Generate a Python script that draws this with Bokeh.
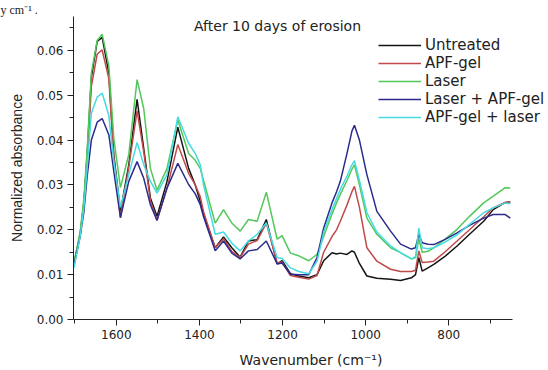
from bokeh.plotting import figure
from bokeh.models import Range1d, FixedTicker, PrintfTickFormatter, Legend, LegendItem, Label, Title
from bokeh.embed import file_html
from bokeh.resources import INLINE

wavenumber = [1702, 1687, 1678, 1670, 1660, 1646, 1634, 1618, 1606, 1590,
              1570, 1550, 1534, 1518, 1502, 1478, 1452, 1426, 1410, 1398,
              1390, 1362, 1342, 1322, 1302, 1282, 1261, 1239, 1213, 1201,
              1181, 1161, 1137, 1117, 1101, 1081, 1070, 1061, 1045, 1033,
              1027, 1015, 997, 973, 940, 916, 890, 880, 872, 864,
              850, 836, 810, 780, 750, 716, 693, 664, 652]

untreated = [0.0125, 0.019, 0.026, 0.037, 0.054, 0.062, 0.0629, 0.055, 0.0367, 0.0241,
             0.0345, 0.0491, 0.0381, 0.0271, 0.0230, 0.0308, 0.0429, 0.0337, 0.0300, 0.0263,
             0.0234, 0.0160, 0.0184, 0.0160, 0.0139, 0.0175, 0.0178, 0.0223, 0.0124, 0.0131,
             0.0102, 0.0097, 0.0093, 0.0100, 0.0131, 0.0149, 0.0146, 0.0148, 0.0145, 0.0153,
             0.0150, 0.0125, 0.0097, 0.0092, 0.0090, 0.0087, 0.0093, 0.0100, 0.0138, 0.0108,
             0.0115, 0.0123, 0.0140, 0.0164, 0.0190, 0.0219, 0.0245, 0.0261, 0.0262]

apf_gel = [0.012, 0.019, 0.026, 0.036, 0.052, 0.0592, 0.0601, 0.0537, 0.036, 0.0227,
           0.034, 0.0465, 0.0374, 0.0265, 0.0221, 0.0293, 0.0390, 0.0326, 0.0300, 0.0274,
           0.0240, 0.0160, 0.0180, 0.0152, 0.0138, 0.0168, 0.0176, 0.0215, 0.0126, 0.0128,
           0.0098, 0.0094, 0.0090, 0.0098, 0.0150, 0.0185, 0.0200, 0.0219, 0.0255, 0.0285,
           0.0297, 0.0250, 0.0160, 0.0130, 0.0112, 0.0107, 0.0107, 0.0110, 0.0153, 0.0127,
           0.0128, 0.0130, 0.0150, 0.0175, 0.0200, 0.0229, 0.0249, 0.0261, 0.0262]

laser = [0.0125, 0.0195, 0.027, 0.038, 0.055, 0.0622, 0.0636, 0.0566, 0.0404, 0.0294,
         0.0368, 0.0535, 0.0470, 0.0337, 0.0288, 0.0337, 0.0445, 0.0370, 0.0355, 0.0337,
         0.0310, 0.0215, 0.0245, 0.0215, 0.0197, 0.0223, 0.0219, 0.0284, 0.0179, 0.0187,
         0.0148, 0.0142, 0.0131, 0.0145, 0.0185, 0.0235, 0.0260, 0.0279, 0.0310, 0.0335,
         0.0345, 0.0300, 0.0226, 0.0190, 0.0160, 0.0149, 0.0135, 0.0138, 0.0180, 0.0150,
         0.0152, 0.0160, 0.0178, 0.0201, 0.0230, 0.0260, 0.0275, 0.0294, 0.0293]

laser_apf = [0.012, 0.0185, 0.024, 0.032, 0.040, 0.0440, 0.0448, 0.0412, 0.0330, 0.0227,
             0.0308, 0.0352, 0.0315, 0.0256, 0.0221, 0.0293, 0.0348, 0.0301, 0.0280, 0.0256,
             0.0229, 0.0153, 0.0175, 0.0148, 0.0135, 0.0153, 0.0156, 0.0175, 0.0124, 0.0126,
             0.0101, 0.0100, 0.0100, 0.0138, 0.0204, 0.0260, 0.0285, 0.0308, 0.0370, 0.0420,
             0.0433, 0.0400, 0.0323, 0.0241, 0.0197, 0.0168, 0.0157, 0.0160, 0.0190, 0.0171,
             0.0168, 0.0167, 0.0178, 0.0193, 0.0210, 0.0226, 0.0234, 0.0234, 0.0226]

apf_laser = [0.0115, 0.0185, 0.025, 0.034, 0.046, 0.0496, 0.0505, 0.0455, 0.0352, 0.0250,
             0.0323, 0.0395, 0.0345, 0.0308, 0.0282, 0.0323, 0.0452, 0.0393, 0.0370, 0.0345,
             0.0300, 0.0190, 0.0195, 0.0170, 0.0153, 0.0175, 0.0190, 0.0215, 0.0138, 0.0136,
             0.0115, 0.0107, 0.0102, 0.0130, 0.0195, 0.0245, 0.0270, 0.0290, 0.0320, 0.0345,
             0.0354, 0.0310, 0.0238, 0.0195, 0.0164, 0.0149, 0.0135, 0.0140, 0.0204, 0.0160,
             0.0158, 0.0160, 0.0172, 0.0189, 0.0212, 0.0238, 0.0249, 0.0260, 0.0258]

series_names = ["Untreated", "APF-gel", "Laser", "Laser + APF-gel", "APF-gel + laser"]
series_values = [untreated, apf_gel, laser, laser_apf, apf_laser]
series_colors = ["#141414", "#c04a4a", "#52c85a", "#2b2b8e", "#45dbe0"]

x_major = [1600, 1400, 1200, 1000, 800]
x_minor = [1700, 1500, 1300, 1100, 900, 700]
y_major = [0.00, 0.01, 0.02, 0.03, 0.04, 0.05, 0.06]
y_minor = [0.005, 0.015, 0.025, 0.035, 0.045, 0.055, 0.065]

x_axis_bounds = (646, 1703)

p = figure(width=548, height=370, x_range=Range1d(1703, 560), y_range=Range1d(0, 0.06756),
           output_backend="svg", toolbar_location=None,
           min_border_left=73, min_border_right=0, min_border_top=0, min_border_bottom=51)
p.outline_line_color = None
p.xgrid.visible = False
p.ygrid.visible = False
p.background_fill_color = "white"

# cropped caption fragment visible at the top-left of the source image
fragment = Title(text="y cm\u207b\u00b9 .", align="left", offset=-73, standoff=0,
                 text_font="Liberation Serif", text_font_size="12px",
                 text_font_style="normal", text_color="#222222")
p.add_layout(fragment, "above")

items = []
for name, vals, col in zip(series_names, series_values, series_colors):
    r = p.line(wavenumber, vals, line_color=col, line_width=1.5)
    items.append(LegendItem(label=name, renderers=[r]))

p.xaxis.ticker = FixedTicker(ticks=x_major, minor_ticks=x_minor)
p.yaxis.ticker = FixedTicker(ticks=y_major, minor_ticks=y_minor)
p.yaxis.formatter = PrintfTickFormatter(format="%.2f")
p.xaxis.bounds = x_axis_bounds

for ax in (p.xaxis[0], p.yaxis[0]):
    ax.major_tick_out = 6
    ax.major_tick_in = 0
    ax.minor_tick_out = 4
    ax.minor_tick_in = 0
    ax.axis_line_color = "#222222"
    ax.major_tick_line_color = "#222222"
    ax.minor_tick_line_color = "#222222"
    ax.major_label_text_color = "#222222"
    ax.axis_label_text_color = "#222222"
    ax.axis_label_text_font_style = "normal"
    ax.major_label_text_font = "DejaVu Sans"
    ax.major_label_text_font_size = "12px"
    ax.major_label_standoff = 4

p.xaxis.axis_label = "Wavenumber (cm\u207b\u00b9)"
p.xaxis.axis_label_text_font = "DejaVu Sans"
p.xaxis.axis_label_text_font_size = "14px"
p.xaxis.axis_label_standoff = 10

p.yaxis.axis_label = "Normalized absorbance"
p.yaxis.axis_label_text_font = "Liberation Sans"
p.yaxis.axis_label_text_font_size = "14px"
p.yaxis.axis_label_standoff = 9

legend = Legend(items=items, location=(305, 193))
legend.border_line_color = None
legend.background_fill_alpha = 0
legend.padding = 0
legend.margin = 0
legend.spacing = 0
legend.label_height = 18
legend.glyph_height = 18
legend.glyph_width = 43
legend.label_standoff = 4
legend.label_text_font = "DejaVu Sans"
legend.label_text_font_size = "15px"
legend.label_text_color = "#222222"
p.add_layout(legend)

title = Label(x=1212, y=0.0673, text="After 10 days of erosion", text_align="center",
              text_baseline="top", text_font="DejaVu Sans", text_font_size="14px",
              text_color="#222222")
p.add_layout(title)

open("out.html", "w").write(file_html(p, INLINE))
